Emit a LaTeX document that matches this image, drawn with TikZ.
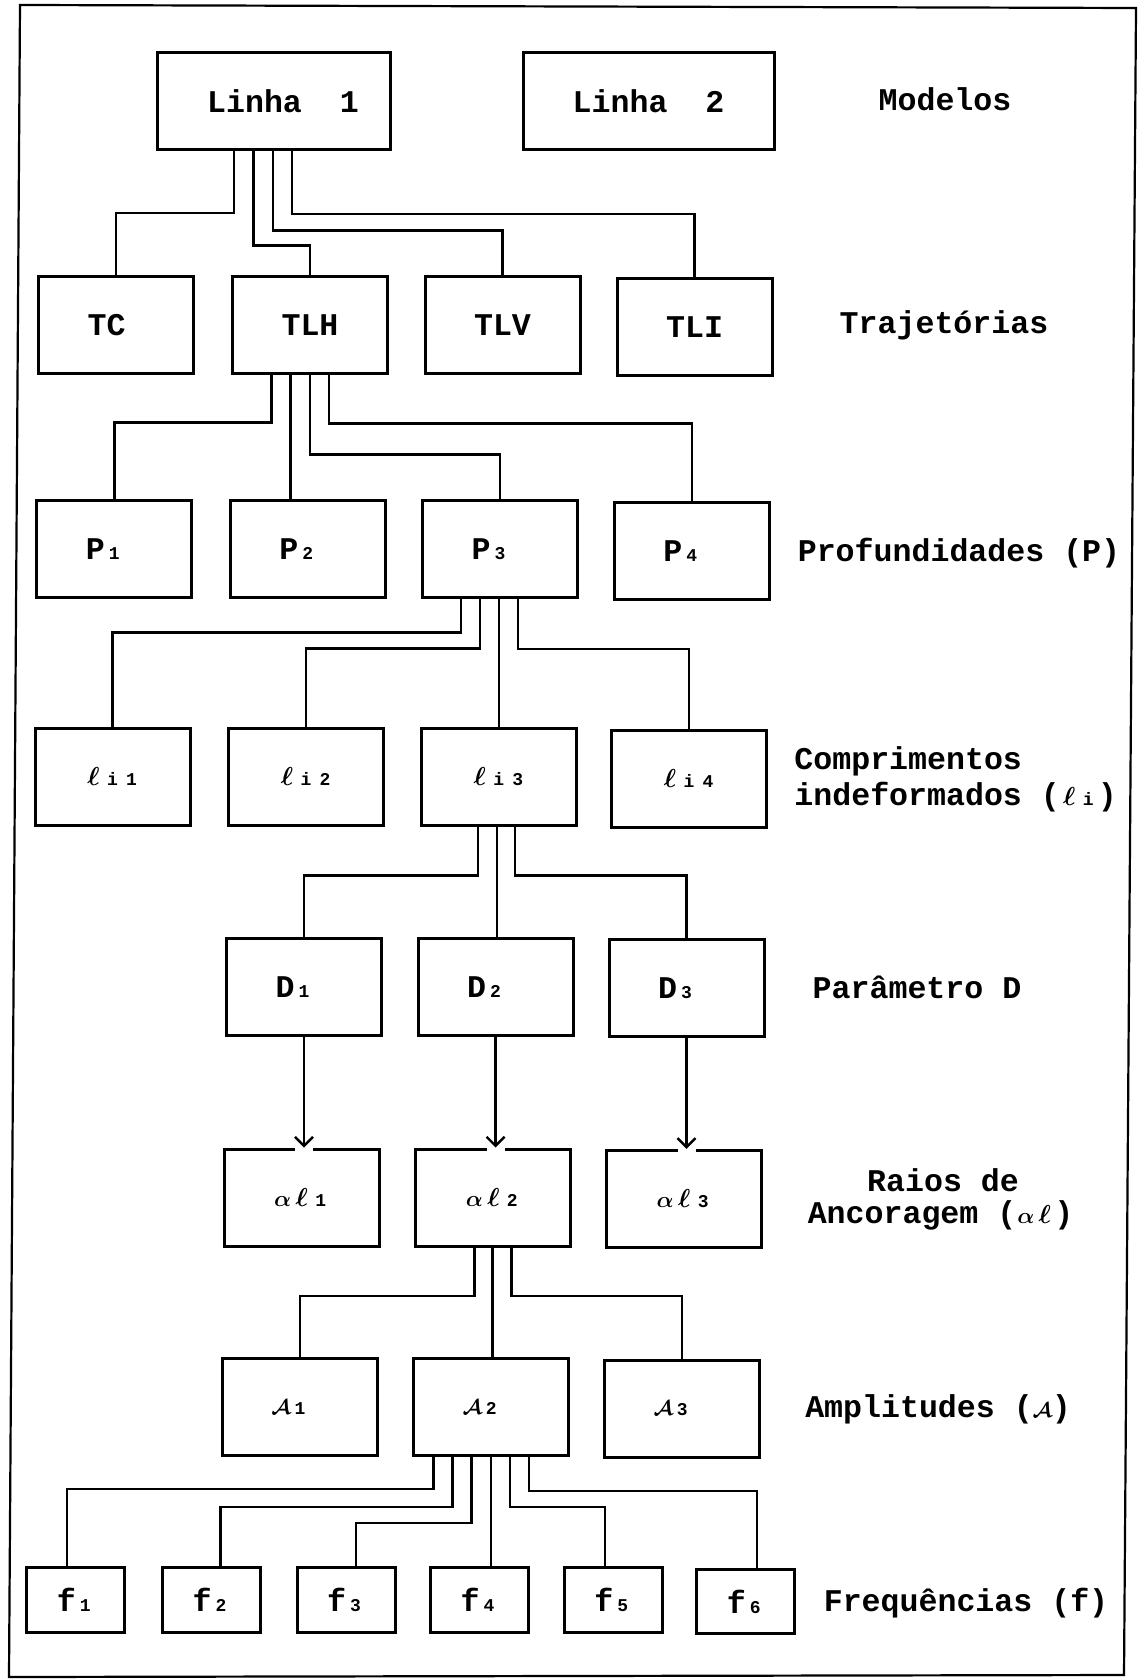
\documentclass[tikz,border=0pt]{standalone}
\usepackage{fontspec}
\usepackage{graphicx}
\usepackage{bm}
\setmainfont{Liberation Mono}
\usetikzlibrary{calc,arrows.meta}
\newcommand\tcell[1]{\makebox[0.6em][c]{#1}}
\newcommand\sbx[1]{\makebox[0.6em][c]{\fontsize{9}{9}\selectfont #1}}
\newcommand\lell{\tcell{\fontsize{10}{10}\selectfont\scalebox{1.3}{$\bm{\ell}$}}}
\newcommand\alf{\tcell{\fontsize{10}{10}\selectfont\scalebox{1.12}{$\bm{\alpha}$}}}
\newcommand\calA{\tcell{\fontsize{10}{10}\selectfont\scalebox{1.05}{$\bm{\mathcal{A}}$}}}
\tikzset{
  txt/.style={font=\fontsize{15.8}{18}\selectfont\bfseries},
  bx/.style={txt, draw, line width=1.5pt, inner sep=0pt, minimum width=77.5pt, minimum height=48.5pt},
  fbx/.style={bx, minimum width=49pt, minimum height=32.25pt},
  conn/.style={line width=1.2pt},
  arr/.style={line width=1.2pt, -{Straight Barb[length=4.5pt,width=9pt,line width=1.2pt]}},
  lab/.style={txt, inner sep=0pt, anchor=base},
  gap/.style={fill=white}
}
\begin{document}
\begin{tikzpicture}[x=0.5pt,y=-0.5pt]
\useasboundingbox (0,0) rectangle (1144,1679);
\draw[line width=1.1pt] (20,5) -- (1136,8) -- (1124,1675) -- (9,1677) -- cycle;

% Row 1
\node[bx, minimum width=116.5pt, minimum height=48.25pt] (L1) at (273.5,100.8) {\tcell{}Linha\tcell{}\tcell{}1};
\node[bx, minimum width=125.5pt] (L2) at (648.5,101.5) {Linha\tcell{}\tcell{}2};
\node[lab] (mod) at (945,111) {Modelos};

% Row 2
\node[bx] (TC)  at (116,325)   {TC\tcell{}};
\node[bx] (TLH) at (310,325)   {TLH};
\node[bx] (TLV) at (502.5,325) {TLV};
\node[bx] (TLI) at (694.6,327) {TLI};
\node[lab] (traj) at (944,334) {Trajetórias};

% Row 3
\node[bx] (P1) at (114.3,549) {P\sbx{1}\tcell{}};
\node[bx] (P2) at (307.8,549) {P\sbx{2}\tcell{}};
\node[bx] (P3) at (500,549)   {P\sbx{3}\tcell{}};
\node[bx] (P4) at (691.7,551) {P\sbx{4}\tcell{}};
\node[lab] (prof) at (959,561) {Profundidades (P)};

% Row 4
\node[bx] (l1) at (112.5,776.7) {\lell\sbx{i}\sbx{1}};
\node[bx] (l2) at (306,776.7)   {\lell\sbx{i}\sbx{2}};
\node[bx] (l3) at (498.8,776.7) {\lell\sbx{i}\sbx{3}};
\node[bx] (l4) at (689,778.7)   {\lell\sbx{i}\sbx{4}};
\node[lab, anchor=base west] (comp1) at (794,769) {Comprimentos};
\node[lab, anchor=base west] (comp2) at (794,805) {indeformados (\lell\sbx{i})};

% Row 5
\node[bx] (D1) at (304,986.8)   {D\sbx{1}\tcell{}};
\node[bx] (D2) at (495.6,986.8) {D\sbx{2}\tcell{}};
\node[bx] (D3) at (686.5,988.3) {D\sbx{3}\tcell{}};
\node[lab] (par) at (917,998) {Parâmetro D};

% Row 6
\node[bx] (a1) at (301.7,1197.5) {\alf\lell\sbx{1}};
\node[bx] (a2) at (493.4,1197.5) {\alf\lell\sbx{2}};
\node[bx] (a3) at (684.2,1198.8) {\alf\lell\sbx{3}};
\node[lab] (raio1) at (943,1191) {Raios de};
\node[lab] (raio2) at (940.5,1223) {Ancoragem (\alf\lell)};

% Row 7
\node[bx] (A1) at (300,1407)    {\calA\sbx{1}\tcell{}};
\node[bx] (A2) at (491.3,1407)  {\calA\sbx{2}\tcell{}};
\node[bx] (A3) at (682.2,1408.5){\calA\sbx{3}\tcell{}};
\node[lab] (ampl) at (938,1417) {Amplitudes (\calA)};

% Row 8
\node[fbx] (f1) at (75.9,1600)   {f\sbx{1}};
\node[fbx] (f2) at (211.6,1600)  {f\sbx{2}};
\node[fbx] (f3) at (346,1600)    {f\sbx{3}};
\node[fbx] (f4) at (479.5,1600)  {f\sbx{4}};
\node[fbx] (f5) at (613.4,1600)  {f\sbx{5}};
\node[fbx] (f6) at (745.7,1601.6){f\sbx{6}};
\node[lab] (freq) at (966,1611) {Frequências (f)};

% Connectors Linha 1 -> trajectories
\draw[conn] ($(L1.south)+(-39.5,0)$) -- ++(0,62.5) -| (TC.north);
\draw[conn] ($(L1.south)+(-20,0)$)   -- ++(0,95)   -| (TLH.north);
\draw[conn] ($(L1.south)+(-0.5,0)$)  -- ++(0,80)   -| (TLV.north);
\draw[conn] ($(L1.south)+(18.5,0)$)  -- ++(0,63.5) -| (TLI.north);

% TLH -> P
\draw[conn] ($(TLH.south)+(-38.6,0)$) -- ++(0,47.5) -| (P1.north);
\draw[conn] ($(TLH.south)+(-19.6,0)$) coordinate (t2) -- (t2 |- P2.north);
\draw[conn] ($(TLH.south)+(-0.3,0)$)  -- ++(0,79.6) -| (P3.north);
\draw[conn] ($(TLH.south)+(19,0)$)    -- ++(0,48.5) -| (P4.north);

% P3 -> l
\draw[conn] ($(P3.south)+(-39.2,0)$) -- ++(0,33.4) -| (l1.north);
\draw[conn] ($(P3.south)+(-20,0)$)   -- ++(0,49.5) -| (l2.north);
\draw[conn] ($(P3.south)+(-1,0)$) coordinate (p3) -- (p3 |- l3.north);
\draw[conn] ($(P3.south)+(18,0)$)    -- ++(0,50)   -| (l4.north);

% l3 -> D
\draw[conn] ($(l3.south)+(-20.8,0)$) -- ++(0,48.7) -| (D1.north);
\draw[conn] ($(l3.south)+(-1.8,0)$) coordinate (q3) -- (q3 |- D2.north);
\draw[conn] ($(l3.south)+(16.2,0)$)  -- ++(0,48.7) -| (D3.north);

% D -> alpha l (arrows)
\fill[gap] ($(D1.south |- a1.north)+(-9,-2)$) rectangle ++(18,7);
\fill[gap] ($(D2.south |- a2.north)+(-9,-2)$) rectangle ++(18,7);
\fill[gap] ($(D3.south |- a3.north)+(-9,-2)$) rectangle ++(18,7);
\draw[arr] (D1.south) -- (D1.south |- a1.north);
\draw[arr] (D2.south) -- (D2.south |- a2.north);
\draw[arr] (D3.south) -- (D3.south |- a3.north);

% a2 -> A
\draw[conn] ($(a2.south)+(-19.1,0)$) -- ++(0,48.2) -| (A1.north);
\draw[conn] ($(a2.south)+(-0.9,0)$) coordinate (r2) -- (r2 |- A2.north);
\draw[conn] ($(a2.south)+(18.1,0)$)  -- ++(0,48.2) -| (A3.north);

% A2 -> f
\draw[conn] ($(A2.south)+(-57.9,0)$) -- ++(0,32)   -| ($(f1.north)+(-9,0)$);
\draw[conn] ($(A2.south)+(-38.9,0)$) -- ++(0,49.8) -| ($(f2.north)+(9,0)$);
\draw[conn] ($(A2.south)+(-19.9,0)$) -- ++(0,65.8) -| ($(f3.north)+(9.7,0)$);
\draw[conn] ($(A2.south)+(-0.6,0)$) coordinate (s4) -- (s4 |- f4.north);
\draw[conn] ($(A2.south)+(18.4,0)$)  -- ++(0,49.8) -| ($(f5.north)+(-8.6,0)$);
\draw[conn] ($(A2.south)+(37.7,0)$)  -- ++(0,33.7) -| ($(f6.north)+(11.3,0)$);
\end{tikzpicture}
\end{document}
